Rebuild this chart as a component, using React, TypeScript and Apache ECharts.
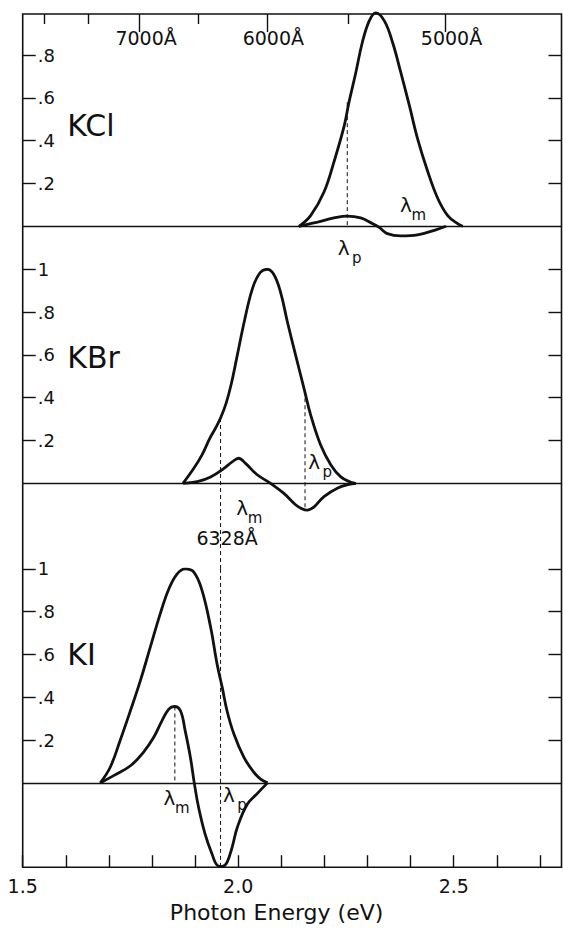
import React, { useEffect, useRef } from 'react';
import * as echarts from 'echarts';

// ---------- data (photon energy in eV, normalized signal) ----------
const E_MIN = 1.5;
const E_MAX = 2.75;

const kclMain: number[][] = [
  [2.141, 0], [2.168, 0.05], [2.199, 0.16], [2.222, 0.3], [2.246, 0.47], [2.257, 0.58],
  [2.273, 0.72], [2.288, 0.86], [2.304, 0.96], [2.319, 0.997], [2.339, 0.96], [2.358, 0.86],
  [2.377, 0.72], [2.397, 0.565], [2.416, 0.41], [2.44, 0.254], [2.463, 0.13], [2.486, 0.05],
  [2.509, 0.012], [2.521, 0],
];
const kclMod: number[][] = [
  [2.141, 0], [2.184, 0.02], [2.222, 0.039], [2.253, 0.048], [2.284, 0.039], [2.311, 0.013],
  [2.327, -0.005], [2.346, -0.034], [2.377, -0.045], [2.416, -0.04], [2.455, -0.019], [2.482, 0],
];
const kbrMain: number[][] = [
  [1.872, 0], [1.897, 0.07], [1.916, 0.133], [1.934, 0.21], [1.948, 0.26], [1.96, 0.31],
  [1.972, 0.375], [1.984, 0.465], [1.998, 0.6], [2.014, 0.755], [2.033, 0.91], [2.051, 0.985],
  [2.067, 1.0], [2.082, 0.978], [2.098, 0.895], [2.114, 0.755], [2.133, 0.6], [2.153, 0.44],
  [2.168, 0.32], [2.191, 0.18], [2.215, 0.086], [2.238, 0.03], [2.261, 0.005], [2.273, 0],
];
const kbrMod: number[][] = [
  [1.872, 0], [1.905, 0.008], [1.936, 0.03], [1.967, 0.07], [1.986, 0.1], [2.001, 0.117],
  [2.017, 0.093], [2.044, 0.04], [2.075, 0], [2.106, -0.047], [2.133, -0.1], [2.149, -0.12],
  [2.16, -0.125], [2.176, -0.11], [2.199, -0.062], [2.23, -0.023], [2.257, -0.005], [2.273, 0],
];
const kiMain: number[][] = [
  [1.68, 0], [1.703, 0.073], [1.726, 0.198], [1.75, 0.338], [1.773, 0.478], [1.796, 0.634],
  [1.819, 0.79], [1.839, 0.906], [1.858, 0.976], [1.877, 1.0], [1.897, 0.985], [1.916, 0.9],
  [1.936, 0.727], [1.951, 0.555], [1.963, 0.445], [1.974, 0.337], [1.99, 0.228], [2.013, 0.12],
  [2.036, 0.05], [2.052, 0.018], [2.068, 0],
];
const kiMod: number[][] = [
  [1.68, 0], [1.711, 0.034], [1.75, 0.08], [1.78, 0.143], [1.804, 0.213], [1.823, 0.29],
  [1.839, 0.345], [1.852, 0.357], [1.866, 0.337], [1.877, 0.243], [1.889, 0.12], [1.898, 0],
  [1.908, -0.114], [1.923, -0.238], [1.939, -0.331], [1.952, -0.386], [1.963, -0.39],
  [1.974, -0.371], [1.986, -0.3], [1.998, -0.207], [2.021, -0.1], [2.044, -0.05], [2.068, 0],
];

// dashed markers: [energy, from value, to value]
const kclDashed: number[][] = [[2.253, 0.58, 0]];
const kbrDashed: number[][] = [[1.959, 0.305, -0.4], [2.155, 0.43, -0.125]];
const kiDashed: number[][] = [[1.959, 1.0, -0.394], [1.853, 0.357, 0]];

// annotations: [energy, value, subscript]
const kclNotes: (number | string)[][] = [[2.403, 0.076, 'm'], [2.2588, -0.127, 'p']];
const kbrNotes: (number | string)[][] = [[2.1902, 0.074, 'p'], [2.0228, -0.141, 'm']];
const kiNotes: (number | string)[][] = [[1.8542, -0.092, 'm'], [1.9926, -0.078, 'p']];
const laserLine: (number | string)[] = [1.959, -0.256, '6328Å'];
const panelNames: (number | string)[][] = [[1.6035, 0.473, 'KCl'], [1.6035, 0.588, 'KBr'], [1.6035, 0.598, 'KI']];

// ticks
const yTicksKCl = [0.2, 0.4, 0.6, 0.8];
const yTicksFull = [0.2, 0.4, 0.6, 0.8, 1];
const yTickLabels = ['.2', '.4', '.6', '.8', '1'];
const eVTicks = [1.5, 1.6, 1.7, 1.8, 1.9, 2.0, 2.1, 2.2, 2.3, 2.4, 2.5, 2.6, 2.7];
const eVLabelValues = [1.5, 2.0, 2.5];
const eVLabels = ['1.5', '2.0', '2.5'];
const majorWavelengths = [7000, 6000, 5000];
const minorWavelengths = [8000, 7500, 6500, 5500];
const HC = 12398.4; // eV·Å

const FONT = 'DejaVu Sans';
const INK = '#111';

function yLabel(v: number) {
  const i = yTicksFull.findIndex((t) => Math.abs(t - v) < 1e-6);
  return i >= 0 ? yTickLabels[i] : '';
}

function panelYAxes(gridIndex: number, min: number, max: number, ticks: number[]) {
  const base = {
    type: 'value' as const,
    gridIndex,
    min,
    max,
    axisLine: { show: false },
    splitLine: { show: false },
    axisTick: { show: true, inside: true, length: 13, customValues: ticks, lineStyle: { color: INK, width: 1.4 } },
  };
  return [
    {
      ...base,
      position: 'left',
      axisLabel: {
        show: true, inside: true, margin: 15, customValues: ticks, formatter: (v: number) => yLabel(v),
        color: INK, fontSize: 18, fontFamily: FONT,
      },
    },
    { ...base, position: 'right', axisLabel: { show: false } },
  ];
}

function panelXAxis(gridIndex: number) {
  return {
    type: 'value', gridIndex, min: E_MIN, max: E_MAX,
    axisLine: { show: true, onZero: true, lineStyle: { color: INK, width: 1.3 } },
    axisTick: { show: false }, axisLabel: { show: false }, splitLine: { show: false },
  };
}

function curve(data: number[][], idx: number, clip = true) {
  return {
    type: 'line', xAxisIndex: idx, yAxisIndex: idx * 2, data, symbol: 'none', smooth: 0.4,
    clip, lineStyle: { color: INK, width: 2.8 }, z: 5,
  };
}

function dashed(list: number[][], idx: number) {
  return list.map((d) => ({
    type: 'line', xAxisIndex: idx, yAxisIndex: idx * 2, symbol: 'none', clip: false,
    data: [[d[0], d[1]], [d[0], d[2]]],
    lineStyle: { color: INK, width: 1, type: [4, 3] }, z: 4,
  }));
}

const plainLabel = { color: INK, fontFamily: FONT, textBorderWidth: 0, textShadowBlur: 0, opacity: 1 };
const scatterBase = { type: 'scatter', symbolSize: 0, z: 6, itemStyle: { opacity: 1 } };

function notes(list: (number | string)[][], idx: number) {
  return [
    {
      ...scatterBase, xAxisIndex: idx, yAxisIndex: idx * 2,
      data: list.map((n) => [n[0], n[1]]),
      label: { show: true, position: 'inside', offset: [-6, -5], formatter: () => 'λ', fontSize: 20, ...plainLabel },
    },
    {
      ...scatterBase, xAxisIndex: idx, yAxisIndex: idx * 2,
      data: list.map((n) => ({ value: [n[0], n[1]], sub: n[2] })),
      label: { show: true, position: 'inside', offset: [7, 5], formatter: (p: any) => p.data.sub, fontSize: 15, ...plainLabel },
    },
  ];
}

function names() {
  return panelNames.map((n, i) => ({
    ...scatterBase, xAxisIndex: i, yAxisIndex: i * 2,
    data: [[n[0], n[1]]],
    label: {
      show: true, position: 'inside', align: 'left', verticalAlign: 'middle',
      formatter: () => String(n[2]), fontSize: 30, ...plainLabel,
    },
  }));
}

export default function App() {
  const ref = useRef<HTMLDivElement>(null);
  useEffect(() => {
    const chart = echarts.init(ref.current!, null, { renderer: 'svg' });
    const LEFT = 22.7;
    const RIGHT = 1.5;
    const option: any = {
      animation: false,
      backgroundColor: '#fff',
      grid: [
        { left: LEFT, right: RIGHT, top: 14, height: 255.1 },
        { left: LEFT, right: RIGHT, top: 269.3, height: 299.6 },
        { left: LEFT, right: RIGHT, top: 568.9, height: 298.3 },
        { left: LEFT, right: RIGHT, top: 14, height: 853.2, show: true, borderColor: INK, borderWidth: 1.6, z: 1 },
      ],
      xAxis: [
        panelXAxis(0),
        panelXAxis(1),
        panelXAxis(2),
        {
          type: 'value', gridIndex: 3, position: 'bottom', min: E_MIN, max: E_MAX,
          axisLine: { show: false }, splitLine: { show: false },
          axisTick: { show: true, inside: true, length: 12, customValues: eVTicks, lineStyle: { color: INK, width: 1.4 } },
          axisLabel: {
            show: true, margin: 9, customValues: eVLabelValues,
            formatter: (v: number) => {
              const i = eVLabelValues.findIndex((t) => Math.abs(t - v) < 1e-6);
              return i >= 0 ? eVLabels[i] : '';
            },
            color: INK, fontSize: 19, fontFamily: FONT,
          },
          name: 'Photon Energy (eV)', nameLocation: 'middle', nameGap: 34,
          nameTextStyle: { color: INK, fontSize: 22, fontFamily: FONT, padding: [0, 31, 0, 0] },
        },
        {
          type: 'value', gridIndex: 3, position: 'top', min: E_MIN, max: E_MAX,
          axisLine: { show: false }, splitLine: { show: false },
          axisTick: { show: true, inside: true, length: 18, customValues: majorWavelengths.map((w) => HC / w), lineStyle: { color: INK, width: 1.4 } },
          axisLabel: {
            show: true, inside: true, margin: 14, customValues: majorWavelengths.map((w) => HC / w),
            formatter: (v: number) => `${Math.round(HC / v / 100) * 100}Å`,
            padding: [0, 0, 0, 13],
            color: INK, fontSize: 19, fontFamily: FONT,
          },
        },
        {
          type: 'value', gridIndex: 3, position: 'top', min: E_MIN, max: E_MAX,
          axisLine: { show: false }, splitLine: { show: false },
          axisTick: { show: true, inside: true, length: 10, customValues: minorWavelengths.map((w) => HC / w), lineStyle: { color: INK, width: 1.4 } },
          axisLabel: { show: false },
        },
      ],
      yAxis: [
        ...panelYAxes(0, -0.2, 0.992, yTicksKCl),
        ...panelYAxes(1, -0.4, 1, yTicksFull),
        ...panelYAxes(2, -0.394, 1, yTicksFull),
        { type: 'value', gridIndex: 3, min: 0, max: 1, show: false },
      ],
      series: [
        curve(kclMain, 0, false),
        curve(kclMod, 0),
        curve(kbrMain, 1),
        curve(kbrMod, 1),
        curve(kiMain, 2),
        curve(kiMod, 2, false),
        ...dashed(kclDashed, 0),
        ...dashed(kbrDashed, 1),
        ...dashed(kiDashed, 2),
        ...notes(kclNotes, 0),
        ...notes(kbrNotes, 1),
        ...notes(kiNotes, 2),
        {
          ...scatterBase, xAxisIndex: 1, yAxisIndex: 2,
          data: [[laserLine[0], laserLine[1]]],
          label: {
            show: true, position: 'inside', padding: [0, 0, 0, 13],
            formatter: () => String(laserLine[2]), fontSize: 19, ...plainLabel,
          },
        },
        ...names(),
      ],
    };
    chart.setOption(option);
    return () => chart.dispose();
  }, []);
  return (
    <div
      ref={ref}
      style={{ position: 'absolute', left: 0, top: 0, width: 563, height: 930, background: '#fff' }}
    />
  );
}
